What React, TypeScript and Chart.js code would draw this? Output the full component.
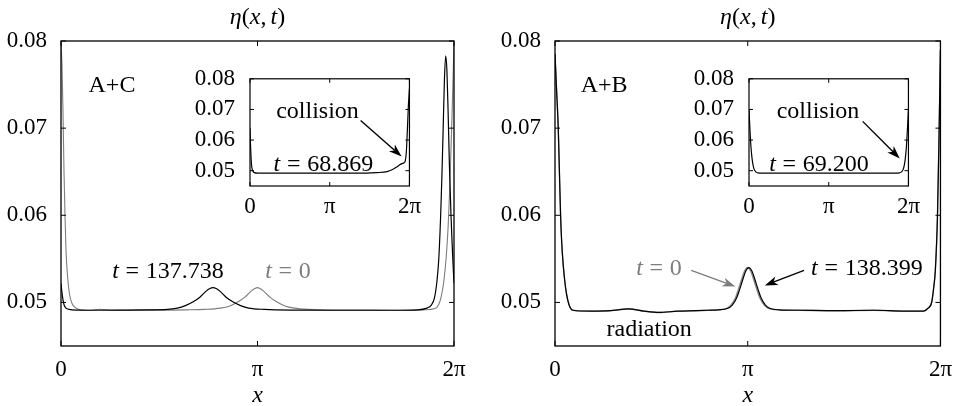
import React, { useEffect, useRef } from "react";
import { Chart, registerables } from "chart.js";
Chart.register(...registerables);

// ---------------- data ----------------
const xTickValues = [0, Math.PI, 2 * Math.PI];
const xTickLabels = ["0", "π", "2π"];
const yTickValues = [0.05, 0.06, 0.07, 0.08];
const yMin = 0.045;
const yMax = 0.08;

// A+C, t = 0
const acInitial: [number, number][] = [
  [0, 0.0798], [0.016, 0.0772], [0.032, 0.0718], [0.048, 0.065], [0.064, 0.06],
  [0.08, 0.056], [0.105, 0.053], [0.135, 0.051], [0.175, 0.0499], [0.23, 0.0494],
  [0.31, 0.04915], [0.45, 0.0491], [0.62, 0.04922], [0.85, 0.0491], [1.2, 0.04912],
  [1.6, 0.04912], [2.0, 0.04915], [2.3, 0.0492], [2.55, 0.04935], [2.7, 0.0496],
  [2.84, 0.0501], [2.94, 0.0506], [3.04, 0.0513], [3.1, 0.0516], [3.14, 0.0517],
  [3.18, 0.0516], [3.24, 0.0513], [3.34, 0.0506], [3.44, 0.0501], [3.58, 0.0496],
  [3.73, 0.04935], [3.95, 0.0492], [4.4, 0.04912], [5.0, 0.04912], [5.5, 0.0491],
  [5.8, 0.04915], [5.98, 0.0493], [6.04, 0.0498], [6.08, 0.0507], [6.12, 0.0524],
  [6.16, 0.0553], [6.19, 0.0588], [6.21, 0.0622], [6.23, 0.0664], [6.25, 0.071],
  [6.266, 0.0752], [6.2832, 0.0798],
];
// A+C, t = 137.738
const acFinal: [number, number][] = [
  [0, 0.0522], [0.016, 0.0511], [0.032, 0.0503], [0.05, 0.0497], [0.08, 0.04935],
  [0.13, 0.0492], [0.25, 0.04912], [0.6, 0.0491], [1.0, 0.04912], [1.4, 0.04915],
  [1.7, 0.0492], [1.86, 0.04935], [1.98, 0.0496], [2.12, 0.0501], [2.22, 0.0506],
  [2.32, 0.0513], [2.38, 0.0516], [2.43, 0.0517], [2.48, 0.0516], [2.54, 0.0513],
  [2.64, 0.0506], [2.74, 0.0501], [2.88, 0.0496], [3.0, 0.04935], [3.25, 0.0492],
  [3.7, 0.04912], [4.5, 0.0491], [5.3, 0.0491], [5.7, 0.04915], [5.85, 0.04935],
  [5.92, 0.0497], [5.97, 0.0505], [6.01, 0.0524], [6.04, 0.055], [6.07, 0.06],
  [6.09, 0.0645], [6.11, 0.07], [6.13, 0.0755], [6.15, 0.0783], [6.17, 0.0766],
  [6.19, 0.0716], [6.21, 0.0657], [6.235, 0.06], [6.26, 0.0556], [6.2832, 0.0522],
];
// A+C, t = 68.869 (inset)
const acCollision: [number, number][] = [
  [0, 0.064], [0.02, 0.0585], [0.04, 0.0545], [0.07, 0.0512], [0.11, 0.0499],
  [0.17, 0.04935], [0.3, 0.0492], [1.0, 0.0492], [2.0, 0.0492], [3.0, 0.0492],
  [4.0, 0.0492], [4.6, 0.0492], [5.0, 0.04935], [5.4, 0.0497], [5.6, 0.0503],
  [5.78, 0.0512], [5.9, 0.0519], [5.98, 0.0523], [6.07, 0.0526], [6.12, 0.0532],
  [6.16, 0.056], [6.2, 0.063], [6.24, 0.071], [6.2832, 0.0768],
];
// A+B, t = 0
const abInitial: [number, number][] = [
  [0, 0.0785], [0.025, 0.0745], [0.053, 0.07], [0.07, 0.0655], [0.091, 0.06],
  [0.11, 0.0568], [0.133, 0.0544], [0.16, 0.0524], [0.187, 0.051], [0.23, 0.0497],
  [0.293, 0.0491], [0.6, 0.049], [0.9, 0.04905], [1.2, 0.04925], [1.45, 0.049],
  [1.7, 0.04885], [2.0, 0.049], [2.3, 0.04905], [2.5, 0.0491], [2.64, 0.04915],
  [2.79, 0.0493], [2.87, 0.0497], [2.94, 0.0505], [2.99, 0.0515], [3.04, 0.0526],
  [3.09, 0.0536], [3.14, 0.054], [3.19, 0.0536], [3.24, 0.0526], [3.29, 0.0515],
  [3.34, 0.0505], [3.41, 0.0497], [3.49, 0.0493], [3.64, 0.04915], [4.0, 0.0491],
  [4.6, 0.04905], [5.2, 0.0491], [5.7, 0.049], [6.01, 0.049], [6.075, 0.0493],
  [6.14, 0.05], [6.17, 0.0515], [6.2, 0.0537], [6.235, 0.06], [6.26, 0.069],
  [6.2832, 0.079],
];
// A+B, t = 138.399
const abFinal: [number, number][] = [
  [0, 0.0785], [0.025, 0.0745], [0.053, 0.07], [0.07, 0.0655], [0.091, 0.06],
  [0.11, 0.0568], [0.133, 0.0544], [0.16, 0.0524], [0.187, 0.051], [0.23, 0.0497],
  [0.293, 0.0491], [0.6, 0.049], [0.9, 0.04905], [1.2, 0.04925], [1.45, 0.049],
  [1.7, 0.04885], [2.0, 0.049], [2.3, 0.04905], [2.5, 0.0491], [2.66, 0.04915],
  [2.81, 0.0493], [2.89, 0.0497], [2.96, 0.0505], [3.01, 0.0515], [3.06, 0.0526],
  [3.11, 0.0536], [3.16, 0.054], [3.21, 0.0536], [3.26, 0.0526], [3.31, 0.0515],
  [3.36, 0.0505], [3.43, 0.0497], [3.51, 0.0493], [3.66, 0.04915], [4.0, 0.0491],
  [4.6, 0.04905], [5.2, 0.0491], [5.7, 0.049], [6.01, 0.049], [6.075, 0.0493],
  [6.14, 0.05], [6.17, 0.0515], [6.2, 0.0537], [6.235, 0.06], [6.26, 0.069],
  [6.2832, 0.079],
];
// A+B, t = 69.200 (inset)
const abCollision: [number, number][] = [
  [0, 0.07], [0.04, 0.063], [0.08, 0.0575], [0.12, 0.054], [0.16, 0.0518],
  [0.2, 0.0505], [0.27, 0.0496], [0.35, 0.0493], [0.5, 0.0492], [3.14, 0.0492],
  [5.78, 0.0492], [5.93, 0.0493], [6.01, 0.0496], [6.08, 0.0505], [6.12, 0.0518],
  [6.16, 0.054], [6.2, 0.0575], [6.24, 0.063], [6.2832, 0.07],
];

const panelNames = ["A+C", "A+B"];
const timeLabels = ["137.738", "0", "68.869", "138.399", "0", "69.200"];

// ---------------- drawing helpers ----------------
const FAMILY = '"Liberation Serif"';
const TICK_FS = 23;
const NOTE_FS = 24;
const GRAY = "#7d7d7d";

type Part = { s: string; it?: boolean; gl?: number; gr?: number };
type Note = { x: number; y: number; parts: Part[]; color?: string };
type Arrow = { from: [number, number]; to: [number, number]; color: string };
type Series = { pts: [number, number][]; color: string; width: number; order: number };
type PanelCfg = {
  left: number; top: number; width: number; height: number;
  yAxisW: number; padTop: number; padRight: number; xAxisH: number;
  xPad: number; yPad: number; tickLen: number; frameW: number;
  series: Series[]; notes: Note[]; arrows: Arrow[]; main?: boolean;
};

function drawParts(ctx: CanvasRenderingContext2D, parts: Part[], cx: number, base: number, size: number, color: string) {
  const font = (it?: boolean) => `${it ? "italic " : ""}${size}px ${FAMILY}`;
  let total = 0;
  const ws = parts.map((p) => {
    ctx.font = font(p.it);
    const w = ctx.measureText(p.s).width + ((p.gl || 0) + (p.gr || 0)) * size;
    total += w;
    return w;
  });
  let x = cx - total / 2;
  ctx.fillStyle = color;
  ctx.textBaseline = "alphabetic";
  ctx.textAlign = "left";
  parts.forEach((p, i) => {
    ctx.font = font(p.it);
    ctx.fillText(p.s, x + (p.gl || 0) * size, base);
    x += ws[i];
  });
}

function drawArrow(ctx: CanvasRenderingContext2D, x1: number, y1: number, x2: number, y2: number, color: string) {
  const a = Math.atan2(y2 - y1, x2 - x1);
  const c = Math.cos(a), s = Math.sin(a);
  const L = 13, W = 4.5;
  ctx.strokeStyle = color;
  ctx.fillStyle = color;
  ctx.lineWidth = 1.4;
  ctx.beginPath();
  ctx.moveTo(x1, y1);
  ctx.lineTo(x2 - c * L * 0.7, y2 - s * L * 0.7);
  ctx.stroke();
  ctx.beginPath();
  ctx.moveTo(x2, y2);
  ctx.lineTo(x2 - c * L - s * W, y2 - s * L + c * W);
  ctx.lineTo(x2 - c * L * 0.72, y2 - s * L * 0.72);
  ctx.lineTo(x2 - c * L + s * W, y2 - s * L - c * W);
  ctx.closePath();
  ctx.fill();
}

const tEq = (v: string): Part[] => [
  { s: "t", it: true },
  { s: "=", gl: 0.28, gr: 0.28 },
  { s: v },
];

function ChartPanel({ cfg }: { cfg: PanelCfg }) {
  const ref = useRef<HTMLCanvasElement | null>(null);
  useEffect(() => {
    const canvas = ref.current!;
    let chart: Chart | null = null;
    let alive = true;
    const deco = {
      id: "deco",
      afterDraw(ch: any) {
        const { ctx, chartArea } = ch;
        const { left, top, right, bottom } = chartArea;
        const xs = ch.scales.x, ys = ch.scales.y;
        ctx.save();
        ctx.strokeStyle = "#000";
        ctx.lineWidth = cfg.frameW;
        ctx.strokeRect(left, top, right - left, bottom - top);
        ctx.beginPath();
        for (const v of yTickValues) {
          const py = ys.getPixelForValue(v);
          ctx.moveTo(left, py); ctx.lineTo(left + cfg.tickLen, py);
          ctx.moveTo(right, py); ctx.lineTo(right - cfg.tickLen, py);
        }
        for (const v of xTickValues) {
          const px = xs.getPixelForValue(v);
          ctx.moveTo(px, bottom); ctx.lineTo(px, bottom - cfg.tickLen);
          ctx.moveTo(px, top); ctx.lineTo(px, top + cfg.tickLen);
        }
        ctx.lineWidth = 1;
        ctx.stroke();
        for (const n of cfg.notes) {
          drawParts(ctx, n.parts, xs.getPixelForValue(n.x), ys.getPixelForValue(n.y) + 0.33 * NOTE_FS, NOTE_FS, n.color || "#000");
        }
        for (const a of cfg.arrows) {
          drawArrow(ctx, xs.getPixelForValue(a.from[0]), ys.getPixelForValue(a.from[1]), xs.getPixelForValue(a.to[0]), ys.getPixelForValue(a.to[1]), a.color);
        }
        if (cfg.main) {
          const cx = (left + right) / 2;
          drawParts(ctx, [{ s: "η", it: true }, { s: "(" }, { s: "x", it: true }, { s: ",", gr: 0.17 }, { s: "t", it: true }, { s: ")" }], cx, 24, NOTE_FS, "#000");
          drawParts(ctx, [{ s: "x", it: true }], cx, 402, NOTE_FS, "#000");
        }
        ctx.restore();
      },
    };
    const make = () => {
      if (!alive) return;
      chart = new Chart(canvas, {
        type: "line",
        data: {
          datasets: cfg.series.map((s) => ({
            data: s.pts.map(([x, y]) => ({ x, y })),
            borderColor: s.color,
            borderWidth: s.width,
            order: s.order,
            pointRadius: 0,
            fill: false,
            cubicInterpolationMode: "monotone" as const,
          })),
        },
        options: {
          animation: false,
          responsive: false,
          maintainAspectRatio: false,
          events: [],
          layout: { padding: { left: 0, top: cfg.padTop, right: cfg.padRight, bottom: 0 } },
          plugins: { legend: { display: false }, tooltip: { enabled: false }, title: { display: false } },
          scales: {
            x: {
              type: "linear",
              min: 0,
              max: 2 * Math.PI,
              grid: { display: false, drawTicks: false },
              border: { display: false },
              afterBuildTicks: (s: any) => { s.ticks = xTickValues.map((v) => ({ value: v })); },
              afterFit: (s: any) => { s.height = cfg.xAxisH; },
              ticks: {
                autoSkip: false,
                maxRotation: 0,
                padding: cfg.xPad,
                color: "#000",
                font: { family: FAMILY, size: TICK_FS },
                callback: (_v: any, i: number) => xTickLabels[i],
              },
            },
            y: {
              type: "linear",
              min: yMin,
              max: yMax,
              grid: { display: false, drawTicks: false },
              border: { display: false },
              afterBuildTicks: (s: any) => { s.ticks = yTickValues.map((v) => ({ value: v })); },
              afterFit: (s: any) => { s.width = cfg.yAxisW; },
              ticks: {
                padding: cfg.yPad,
                color: "#000",
                font: { family: FAMILY, size: TICK_FS },
                callback: (v: any) => Number(v).toFixed(2),
              },
            },
          },
        } as any,
        plugins: [deco],
      });
    };
    const fonts = (document as any).fonts;
    if (fonts && fonts.load) {
      Promise.all([
        fonts.load(`${TICK_FS}px ${FAMILY}`),
        fonts.load(`italic ${NOTE_FS}px ${FAMILY}`),
      ]).then(make, make);
    } else {
      make();
    }
    return () => {
      alive = false;
      if (chart) chart.destroy();
    };
  }, [cfg]);
  return (
    <canvas
      ref={ref}
      width={cfg.width}
      height={cfg.height}
      style={{ position: "absolute", left: cfg.left, top: cfg.top, width: cfg.width, height: cfg.height }}
    />
  );
}

// ---------------- panel layouts ----------------
const mainBase = { top: 0, width: 481, height: 406, padTop: 41, xAxisH: 60, xPad: 10, yPad: 14, tickLen: 5, frameW: 1.3, main: true };
const insetBase = { top: 50, width: 243, height: 171, padTop: 15, padRight: 15, xAxisH: 35, yAxisW: 65, xPad: 7, yPad: 15, tickLen: 4, frameW: 1.2 };

// lower "order" is drawn on top in Chart.js
const panels: PanelCfg[] = [
  {
    ...mainBase, left: 0, yAxisW: 61, padRight: 27,
    series: [
      { pts: acInitial, color: GRAY, width: 1.1, order: 2 },
      { pts: acFinal, color: "#000", width: 1.2, order: 1 },
    ],
    notes: [
      { x: 0.815, y: 0.0751, parts: [{ s: panelNames[0] }] },
      { x: 1.71, y: 0.05367, parts: tEq(timeLabels[0]) },
      { x: 3.63, y: 0.05367, parts: tEq(timeLabels[1]), color: GRAY },
    ],
    arrows: [],
  },
  {
    ...mainBase, left: 481, yAxisW: 74, padRight: 14,
    series: [
      { pts: abInitial, color: "#8a8a8a", width: 1.4, order: 2 },
      { pts: abFinal, color: "#000", width: 1.2, order: 1 },
    ],
    notes: [
      { x: 0.8, y: 0.0751, parts: [{ s: panelNames[1] }] },
      { x: 1.695, y: 0.0541, parts: tEq(timeLabels[4]), color: GRAY },
      { x: 5.084, y: 0.0541, parts: tEq(timeLabels[3]) },
      { x: 1.535, y: 0.04702, parts: [{ s: "radiation" }] },
    ],
    arrows: [
      { from: [2.22, 0.05367], to: [2.94, 0.05183], color: GRAY },
      { from: [4.06, 0.05367], to: [3.42, 0.05195], color: "#000" },
    ],
  },
  {
    ...insetBase, left: 185,
    series: [{ pts: acCollision, color: "#000", width: 1.2, order: 1 }],
    notes: [
      { x: 2.66, y: 0.0699, parts: [{ s: "collision" }] },
      { x: 2.89, y: 0.0526, parts: tEq(timeLabels[2]) },
    ],
    arrows: [{ from: [4.36, 0.0664], to: [5.975, 0.0546], color: "#000" }],
  },
  {
    ...insetBase, left: 684,
    series: [{ pts: abCollision, color: "#000", width: 1.2, order: 1 }],
    notes: [
      { x: 2.72, y: 0.0699, parts: [{ s: "collision" }] },
      { x: 2.76, y: 0.0526, parts: tEq(timeLabels[5]) },
    ],
    arrows: [{ from: [4.48, 0.0661], to: [5.94, 0.054], color: "#000" }],
  },
];

export default function App() {
  return (
    <div style={{ position: "fixed", left: 0, top: 0, width: 962, height: 406, background: "#fff", overflow: "hidden" }}>
      <span style={{ position: "absolute", left: -1000, top: 0, fontFamily: FAMILY, fontSize: 20 }}>
        0.08 <i>t</i>
      </span>
      {panels.map((p, i) => (
        <ChartPanel key={i} cfg={p} />
      ))}
    </div>
  );
}
